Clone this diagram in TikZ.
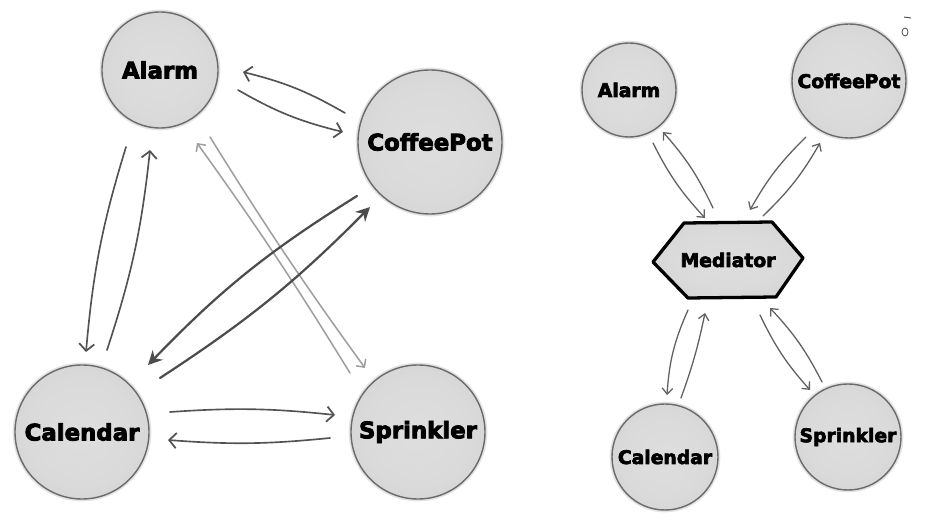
\documentclass[tikz,border=0pt]{standalone}
\usepackage{fontspec}
\newfontface\labfont{DejaVu Sans Bold}[FakeBold=3.5]
\usetikzlibrary{arrows.meta,calc}
\pgfdeclareradialshading{ballshade}{\pgfpoint{0bp}{0bp}}{color(0bp)=(gray!26); color(20bp)=(gray!29); color(36bp)=(gray!37); color(45bp)=(gray!50); color(50bp)=(gray!70)}
\tikzset{
  ball/.style={circle, draw=black!58, line width=1.2pt, shading=ballshade, inner sep=0pt,
    preaction={draw=gray!22, line width=4pt}},
  bigfont/.style={font=\labfont\fontsize{19.5}{20}\selectfont},
  smallfont/.style={font=\labfont\fontsize{16}{17}\selectfont},
  arr/.style={draw=black!68, line width=1.4pt, line cap=round,
    -{Straight Barb[length=6pt,width=13pt,line width=1.5pt]}},
  heavyarr/.style={draw=black!70, line width=1.9pt, line cap=round,
    -{Stealth[length=12pt,width=12pt,inset=4pt]}},
  lightarr/.style={draw=black!38, line width=1.3pt, line cap=round,
    -{Straight Barb[length=5pt,width=10pt,line width=1.3pt]}},
  thinarr/.style={draw=black!62, line width=1.1pt, line cap=round,
    -{Straight Barb[length=5pt,width=9pt,line width=1.1pt]}},
  hexbox/.style={draw=black, line width=2.8pt, line join=round, shading=ballshade}
}
\begin{document}
\begin{tikzpicture}[x=0.03cm,y=0.03cm]
\useasboundingbox (0,0) rectangle (938,528);
% left diagram nodes
\node[ball, bigfont, minimum size=3.48cm] (alL) at (160,458) {Alarm};
\node[ball, bigfont, minimum size=4.32cm] (cpL) at (430,386) {CoffeePot};
\node[ball, bigfont, minimum size=4.02cm] (calL) at (82,96) {Calendar};
\node[ball, bigfont, minimum size=4.02cm] (sprL) at (418,96) {Sprinkler};
% left arrows
\draw[arr] ($(cpL)+(-85,29)$) to[bend right=8] ($(alL)+(83,-2)$);
\draw[arr] ($(alL)+(78,-20)$) to[bend right=8] ($(cpL)+(-87,10)$);
\draw[arr] ($(alL)+(-34,-77)$) to[bend right=6] ($(calL)+(4,80)$);
\draw[arr] ($(calL)+(25,82)$) to[bend right=6] ($(alL)+(-10,-80)$);
\draw[lightarr] ($(alL)+(50,-67)$) to[bend right=2] ($(sprL)+(-53,64)$);
\draw[lightarr] ($(sprL)+(-68,59)$) to[bend right=2] ($(alL)+(37,-73)$);
\draw[heavyarr] ($(cpL)+(-73,-54)$) to[bend right=7] ($(calL)+(66,67)$);
\draw[heavyarr] ($(calL)+(78,54)$) to[bend right=6] ($(cpL)+(-60,-65)$);
\draw[arr] ($(calL)+(88,20)$) to[bend left=5] ($(sprL)+(-83,17)$);
\draw[arr] ($(sprL)+(-88,-6)$) to[bend left=5] ($(calL)+(86,-8)$);
% right diagram
\draw[hexbox, shift={(728,268)}] (-75,-2) -- (-44,37) -- (44,38) -- (75,2) -- (48,-37) -- (-40,-38) -- cycle;
\node[smallfont, inner sep=0pt] (med) at (728,268) {Mediator};
\node[ball, smallfont, minimum size=2.82cm] (alR) at (629,438) {Alarm};
\node[ball, smallfont, minimum size=3.42cm] (cpR) at (849,447) {CoffeePot};
\node[ball, smallfont, minimum size=3.18cm] (calR) at (665,71) {Calendar};
\node[ball, smallfont, minimum size=3.18cm] (sprR) at (848,91) {Sprinkler};
\draw[thinarr] ($(alR)+(24,-53)$) to[bend right=8] ($(med)+(-23,42)$);
\draw[thinarr] ($(med)+(-15,52)$) to[bend right=8] ($(alR)+(34,-42)$);
\draw[thinarr] ($(cpR)+(-43,-56)$) to[bend right=8] ($(med)+(22,50)$);
\draw[thinarr] ($(med)+(35,44)$) to[bend right=8] ($(cpR)+(-29,-62)$);
\draw[thinarr] ($(med)+(-40,-50)$) to[bend right=10] ($(calR)+(2,62)$);
\draw[thinarr] ($(calR)+(16,59)$) to[bend right=4] ($(med)+(-23,-53)$);
\draw[thinarr] ($(med)+(32,-55)$) to[bend right=8] ($(sprR)+(-38,47)$);
\draw[thinarr] ($(sprR)+(-26,55)$) to[bend right=8] ($(med)+(42,-48)$);
% stray pen marks
\draw[black!70, line width=0.7pt] (905,496) ellipse (3 and 4);
\draw[black!70, line width=0.8pt] (904,511) -- (911,510);
\end{tikzpicture}
\end{document}
